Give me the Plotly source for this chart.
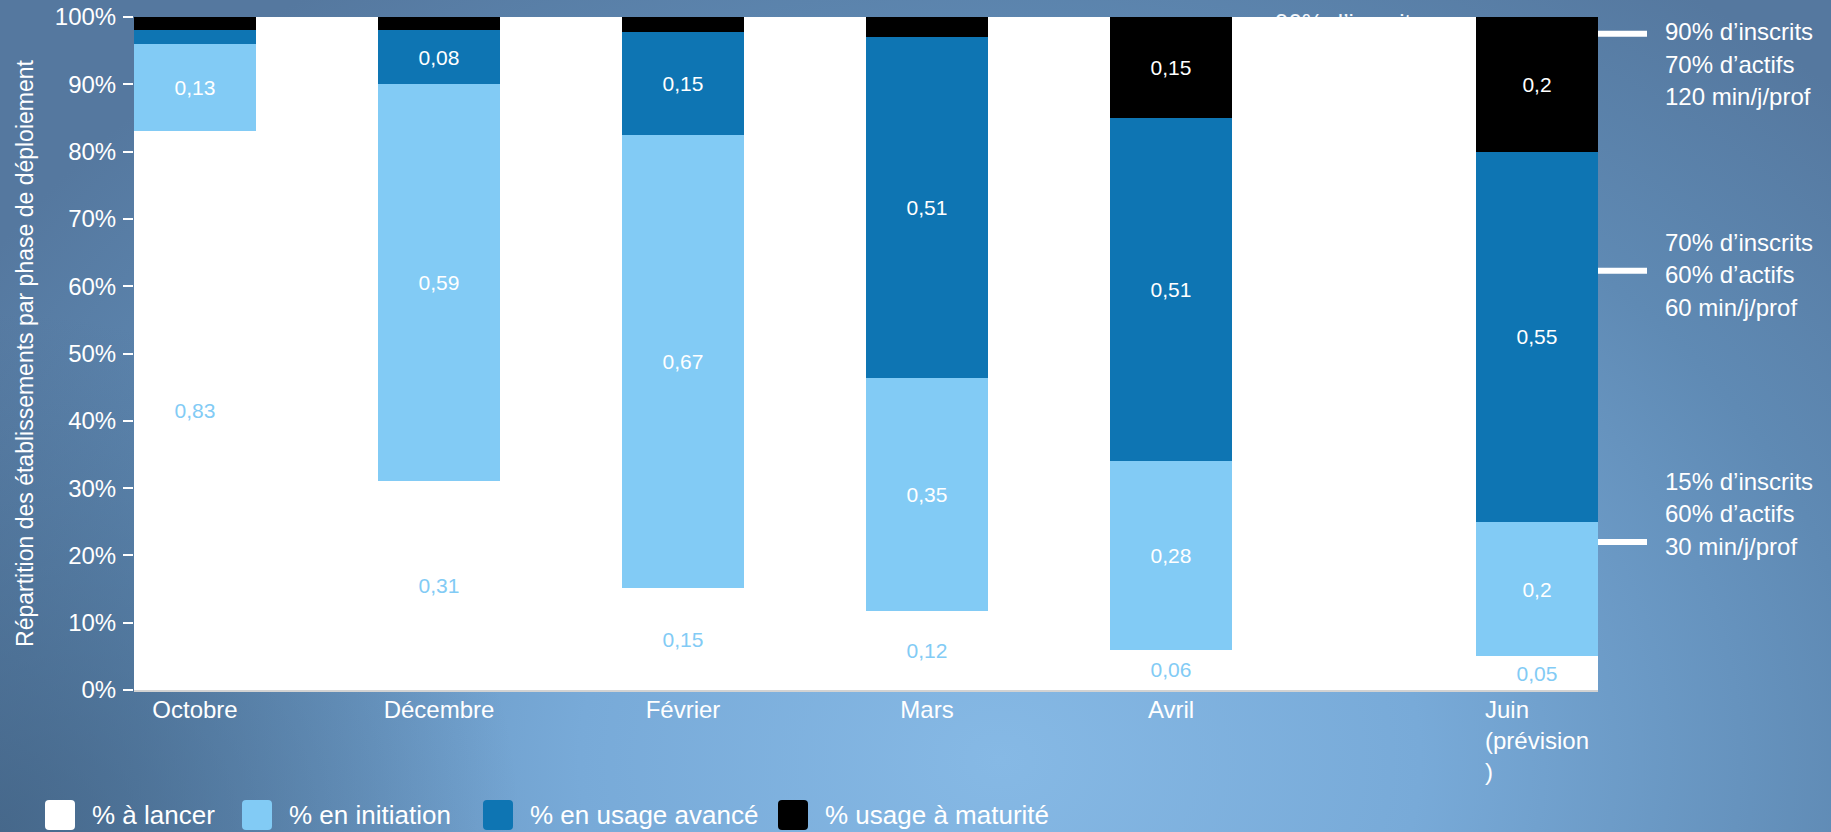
import base64
import plotly.graph_objects as go

# ---------------- data ----------------
categories = ["Octobre", "Décembre", "Février", "Mars", "Avril", "Juin<br>(prévision<br>)"]
series_names = ["% à lancer", "% en initiation", "% en usage avancé", "% usage à maturité"]
a_lancer = [0.83, 0.31, 0.151, 0.118, 0.06, 0.05]
en_initiation = [0.13, 0.59, 0.674, 0.346, 0.28, 0.20]
usage_avance = [0.02, 0.08, 0.153, 0.506, 0.51, 0.55]
usage_maturite = [0.02, 0.02, 0.022, 0.03, 0.15, 0.20]
y_ticks = [0, 0.1, 0.2, 0.3, 0.4, 0.5, 0.6, 0.7, 0.8, 0.9, 1.0]

objectifs = [
    ["90% d’inscrits", "70% d’actifs", "120 min/j/prof"],
    ["70% d’inscrits", "60% d’actifs", "60 min/j/prof"],
    ["15% d’inscrits", "60% d’actifs", "30 min/j/prof"],
]
objectif_niveaux = [0.975, 0.623, 0.22]      # level of the white marker
objectif_texte_y = [0.93, 0.617, 0.262]      # middle line of each text block
texte_masque = "90% d’inscrits"               # text hidden behind the plot area

# ---------------- style ----------------
FONT = "Liberation Sans, Arial, sans-serif"
colors = ["#ffffff", "#82cbf5", "#0e75b3", "#000000"]
text_colors = ["#82cbf5", "#ffffff", "#ffffff", "#ffffff"]
W, H = 1831, 832
ML, MR, MT, MB = 134, 233, 0, 142
PLOT_TOP = 17
PW, PH = W - ML - MR, H - MT - MB          # PH = 690 (paper area)
DOM_TOP = (PH - PLOT_TOP) / PH

# positions of the columns on the x axis (gap before the forecast column)
x_pos = [0, 1, 2, 3, 4, 5.5]
X_RANGE = [-0.25, 5.75]


def fmt(v):
    if v < 0.05:
        return ""
    s = f"{v:.2f}".rstrip("0")
    return s.replace(".", ",")


def px_x(p):
    return (p - ML) / PW


def px_y(p):
    return (H - MB - p) / PH


fig = go.Figure()
for name, vals, col, tcol in zip(series_names,
                                 [a_lancer, en_initiation, usage_avance, usage_maturite],
                                 colors, text_colors):
    fig.add_trace(go.Bar(
        x=x_pos, y=vals, name=name, width=0.5,
        marker=dict(color=col, line=dict(width=0)),
        text=[fmt(v) for v in vals],
        textposition="inside", insidetextanchor="middle", textangle=0,
        constraintext="none",
        textfont=dict(family=FONT, size=21, color=tcol),
        showlegend=False, hoverinfo="skip",
    ))

# text partly hidden behind the plot area (only its top shows above it)
fig.add_trace(go.Scatter(
    x=[4.73], y=[-0.48], mode="text", text=[texte_masque], textposition="middle center",
    textfont=dict(family=FONT, size=24, color="#f4f7fb"), cliponaxis=True,
    xaxis="x2", yaxis="y2", showlegend=False, hoverinfo="skip",
))

# background gradient (decorative)
svg = f"""<svg xmlns='http://www.w3.org/2000/svg' width='{W}' height='{H}' viewBox='0 0 {W} {H}' preserveAspectRatio='none'>
<defs>
<radialGradient id='g' gradientUnits='userSpaceOnUse' cx='1000' cy='760' r='1200'
 gradientTransform='translate(1000 760) scale(1 0.78) translate(-1000 -760)'>
<stop offset='0' stop-color='#86b9e5'/>
<stop offset='0.35' stop-color='#78aad8'/>
<stop offset='0.72' stop-color='#5f8ab4'/>
<stop offset='1' stop-color='#55789f'/>
</radialGradient>
<radialGradient id='d' gradientUnits='userSpaceOnUse' cx='0' cy='832' r='520'>
<stop offset='0' stop-color='#3f5f80' stop-opacity='0.75'/>
<stop offset='1' stop-color='#3f5f80' stop-opacity='0'/>
</radialGradient>
</defs>
<rect width='{W}' height='{H}' fill='url(#g)'/>
<rect width='{W}' height='{H}' fill='url(#d)'/>
</svg>"""
src = "data:image/svg+xml;base64," + base64.b64encode(svg.encode()).decode()

shapes = [dict(type="rect", xref="x domain", yref="y domain", x0=0, x1=1, y0=0, y1=1,
               fillcolor="white", line=dict(width=0), layer="below")]
annotations = []

# objective markers and texts on the right
for lines, lvl, ty in zip(objectifs, objectif_niveaux, objectif_texte_y):
    shapes.append(dict(type="line", xref="paper", yref="y", xsizemode="pixel", xanchor=1,
                       x0=0, x1=49, y0=lvl, y1=lvl, line=dict(color="white", width=6),
                       layer="above"))
    for i, t in enumerate(lines):
        annotations.append(dict(text=t, xref="paper", yref="y", x=px_x(1663), y=ty,
                                xanchor="left", yanchor="middle", yshift=-(i - 1) * 32.5,
                                showarrow=False, font=dict(family=FONT, size=24, color="white")))

# label of the forecast column (left aligned lines)
annotations.append(dict(text=categories[-1], xref="x", yref="paper", x=x_pos[-1], y=0,
                        xanchor="center", yanchor="top", yshift=-4, align="left",
                        showarrow=False, font=dict(family=FONT, size=24, color="white")))

# custom legend
legend_px = [45, 242, 483, 778]
legend_cy = 815
r, h = 4, 15
sq_path = (f"M{-h + r},{-h} L{h - r},{-h} Q{h},{-h} {h},{-h + r} L{h},{h - r} Q{h},{h} {h - r},{h} "
           f"L{-h + r},{h} Q{-h},{h} {-h},{h - r} L{-h},{-h + r} Q{-h},{-h} {-h + r},{-h} Z")
for name, col, lx in zip(series_names, colors, legend_px):
    shapes.append(dict(type="path", xref="paper", yref="paper", xsizemode="pixel", ysizemode="pixel",
                       xanchor=px_x(lx + h), yanchor=px_y(legend_cy), path=sq_path,
                       fillcolor=col, line=dict(width=0), layer="above"))
    annotations.append(dict(text=name, xref="paper", yref="paper", x=px_x(lx + 2 * h + 15),
                            y=px_y(legend_cy), xanchor="left", yanchor="middle", showarrow=False,
                            font=dict(family=FONT, size=26, color="white")))

fig.update_layout(
    width=W, height=H, autosize=False,
    margin=dict(l=ML, r=MR, t=MT, b=MB, pad=0),
    barmode="stack",
    paper_bgcolor="#6690bb", plot_bgcolor="rgba(0,0,0,0)",
    font=dict(family=FONT, color="white"),
    images=[dict(source=src, xref="paper", yref="paper", x=px_x(0), y=px_y(0),
                 sizex=W / PW, sizey=H / PH, xanchor="left", yanchor="top",
                 sizing="stretch", layer="below")],
    shapes=shapes, annotations=annotations,
    showlegend=False,
    xaxis=dict(range=X_RANGE, tickvals=x_pos[:-1], ticktext=categories[:-1],
               ticks="", showgrid=False, zeroline=False, showline=True,
               linecolor="#d2d2d2", linewidth=2, ticklabelstandoff=-3, automargin=False,
               tickfont=dict(family=FONT, size=24, color="white"), fixedrange=True),
    yaxis=dict(range=[0, 1], domain=[0, DOM_TOP], tickvals=y_ticks, tickformat=".0%",
               ticks="outside", ticklen=10, tickwidth=2, tickcolor="white",
               showgrid=False, zeroline=False, showline=False, ticklabelstandoff=2,
               automargin=False,
               tickfont=dict(family=FONT, size=24, color="white"),
               title=dict(text="Répartition des établissements par phase de déploiement",
                          font=dict(family=FONT, size=23, color="white"), standoff=14),
               fixedrange=True),
    xaxis2=dict(range=X_RANGE, anchor="y2", visible=False, fixedrange=True),
    yaxis2=dict(range=[0, 1], domain=[DOM_TOP, 1], anchor="x2", visible=False, fixedrange=True),
)

fig.write_html("out.html", config={"displayModeBar": False, "staticPlot": True},
               post_script="document.body.style.margin='0';")
